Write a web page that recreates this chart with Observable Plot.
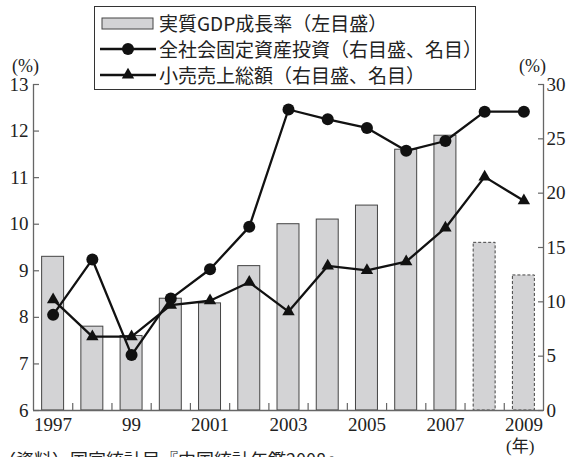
<!DOCTYPE html>
<html>
<head>
<meta charset="utf-8">
<script src="https://cdn.jsdelivr.net/npm/d3@7"></script>
<script src="https://cdn.jsdelivr.net/npm/@observablehq/plot@0.6"></script>
<style>
  html, body { margin: 0; padding: 0; background: #fff; overflow: hidden; }
  #wrap { position: relative; width: 571px; height: 457px; overflow: hidden; }
  #chart svg { display: block; }
  .legend {
    position: absolute; left: 94px; top: 6px; width: 382px; height: 84px;
    box-sizing: border-box; border: 1.5px solid #333; background: #fff;
    font-family: "Noto Sans CJK JP", sans-serif; font-size: 19px; line-height: 26px; color: #222;
  }
  .row { position: absolute; left: 5px; height: 26px; display: flex; align-items: center; white-space: nowrap; }
  .row svg { margin-right: 3px; flex: none; }
  .note { position: absolute; font-family: "Liberation Serif", "Noto Sans CJK JP", serif; color: #222; line-height: 20px; }
  .caption { position: absolute; left: -2px; top: 446px; font-family: "Noto Sans CJK JP", sans-serif; font-size: 18px; color: #222; white-space: nowrap; }
</style>
</head>
<body>
<div id="wrap">
  <div id="chart"></div>
  <div class="legend" id="legend"></div>
  <div class="note" style="left:12px; top:56px; font-size:18px;">(%)</div>
  <div class="note" style="left:519px; top:56px; font-size:18px;">(%)</div>
  <div class="note" style="left:506px; top:437px; font-size:17px;">(年)</div>
  <div class="caption">（資料）国家統計局『中国統計年鑑2008』</div>
</div>
<script>
// Years on the horizontal axis
const years = [1997, 1998, 1999, 2000, 2001, 2002, 2003, 2004, 2005, 2006, 2007, 2008, 2009];
// Real GDP growth (%), left scale
const gdpGrowth = [9.3, 7.8, 7.6, 8.4, 8.3, 9.1, 10.0, 10.1, 10.4, 11.6, 11.9, 9.6, 8.9];
// Fixed-asset investment growth (%, nominal), right scale
const investmentGrowth = [8.8, 13.9, 5.1, 10.3, 13.0, 16.9, 27.7, 26.8, 26.0, 23.9, 24.8, 27.5, 27.5];
// Retail sales growth (%, nominal), right scale
const retailGrowth = [10.2, 6.8, 6.8, 9.7, 10.1, 11.8, 9.1, 13.3, 12.9, 13.7, 16.8, 21.5, 19.3];
// Years whose bars are outlined with a dashed stroke
const estimatedYears = [2008, 2009];

// Axis ticks and labels
const leftTicks = [6, 7, 8, 9, 10, 11, 12, 13];
const rightTicks = [0, 5, 10, 15, 20, 25, 30];
const labeledYears = [1997, 1999, 2001, 2003, 2005, 2007, 2009];
const yearLabels = ["1997", "99", "2001", "2003", "2005", "2007", "2009"];

const leftDomain = [6, 13];
const rightDomain = [0, 30];
// map a right-scale value onto the shared (left) y scale
const toLeft = v => leftDomain[0] + (v - rightDomain[0]) * (leftDomain[1] - leftDomain[0]) / (rightDomain[1] - rightDomain[0]);
const toRight = v => rightDomain[0] + (v - leftDomain[0]) * (rightDomain[1] - rightDomain[0]) / (leftDomain[1] - leftDomain[0]);

const rows = years.map((year, i) => ({
  year,
  gdp: gdpGrowth[i],
  inv: investmentGrowth[i],
  retail: retailGrowth[i],
  estimated: estimatedYears.includes(year)
}));

const xDomain = [years[0] - 0.5, years[years.length - 1] + 0.5];
const barHalf = 0.28;
const boundaries = years.slice(0, -1).map(y => y + 0.5);
const axisColor = "#666";
const serif = "Liberation Serif";
const labelSize = 19;

const chart = Plot.plot({
  width: 571,
  height: 457,
  marginLeft: 33,
  marginRight: 28,
  marginTop: 84,
  marginBottom: 47,
  style: { fontFamily: serif, fontSize: "19px", color: "#222", background: "#fff" },
  x: { domain: xDomain },
  y: { domain: leftDomain },
  marks: [
    // GDP bars
    Plot.rectY(rows.filter(d => !d.estimated), {
      x1: d => d.year - barHalf, x2: d => d.year + barHalf,
      y1: leftDomain[0], y2: "gdp",
      fill: "#d3d3d5", stroke: "#444", strokeWidth: 1
    }),
    Plot.rectY(rows.filter(d => d.estimated), {
      x1: d => d.year - barHalf, x2: d => d.year + barHalf,
      y1: leftDomain[0], y2: "gdp",
      fill: "#d3d3d5", stroke: "#444", strokeWidth: 1, strokeDasharray: "3,2"
    }),
    // frame: left, right and bottom sides
    Plot.ruleX(xDomain, { stroke: axisColor, strokeWidth: 1.3 }),
    Plot.ruleY([leftDomain[0]], { stroke: axisColor, strokeWidth: 1.3 }),
    // inward tick marks
    Plot.axisX({ ticks: boundaries, tickSize: -7, tickFormat: () => "", stroke: axisColor, strokeWidth: 1.2, label: null }),
    Plot.axisY({ ticks: leftTicks, tickSize: -6, tickFormat: () => "", stroke: axisColor, strokeWidth: 1.2, label: null }),
    Plot.axisY({ anchor: "right", ticks: rightTicks.map(toLeft), tickSize: -6, tickFormat: () => "", stroke: axisColor, strokeWidth: 1.2, label: null }),
    // tick labels
    Plot.axisX({ ticks: labeledYears, tickSize: 0, tickPadding: 7, fontSize: labelSize, fill: "#222",
      tickFormat: d => yearLabels[labeledYears.indexOf(d)], label: null }),
    Plot.axisY({ ticks: leftTicks, tickSize: 0, tickPadding: 5, fontSize: labelSize, fill: "#222",
      tickFormat: d => String(d), label: null }),
    Plot.axisY({ anchor: "right", ticks: rightTicks.map(toLeft), tickSize: 0, tickPadding: 3, fontSize: labelSize, fill: "#222",
      tickFormat: d => String(Math.round(toRight(d))), label: null }),
    // investment and retail lines
    Plot.line(rows, { x: "year", y: d => toLeft(d.inv), stroke: "#111", strokeWidth: 2.3 }),
    Plot.line(rows, { x: "year", y: d => toLeft(d.retail), stroke: "#111", strokeWidth: 2.3 }),
    Plot.dot(rows, { x: "year", y: d => toLeft(d.inv), r: 6, fill: "#111", stroke: "none" }),
    Plot.dot(rows, { x: "year", y: d => toLeft(d.retail), r: 4.6, symbol: "triangle", fill: "#111", stroke: "none" })
  ]
});
document.getElementById("chart").appendChild(chart);

// legend entries
const legendItems = [
  { label: "実質GDP成長率（左目盛）", kind: "bar" },
  { label: "全社会固定資産投資（右目盛、名目）", kind: "circle" },
  { label: "小売売上総額（右目盛、名目）", kind: "triangle" }
];
const legend = document.getElementById("legend");
legendItems.forEach((item, i) => {
  const row = document.createElement("div");
  row.className = "row";
  row.style.top = (3 + i * 26) + "px";
  let sym = "";
  if (item.kind === "bar") {
    sym = '<rect x="2" y="8" width="51" height="11" fill="#d3d3d5" stroke="#444" stroke-width="1"/>';
  } else if (item.kind === "circle") {
    sym = '<line x1="0" x2="56" y1="13" y2="13" stroke="#111" stroke-width="2.3"/><circle cx="28" cy="13" r="6" fill="#111"/>';
  } else {
    sym = '<line x1="0" x2="56" y1="13" y2="13" stroke="#111" stroke-width="2.3"/><path d="' + d3.symbol(d3.symbolTriangle, Math.PI * 4.6 * 4.6)() + '" transform="translate(28,13)" fill="#111"/>';
  }
  row.innerHTML = '<svg width="56" height="26">' + sym + '</svg><span>' + item.label + '</span>';
  legend.appendChild(row);
});
</script>
</body>
</html>
